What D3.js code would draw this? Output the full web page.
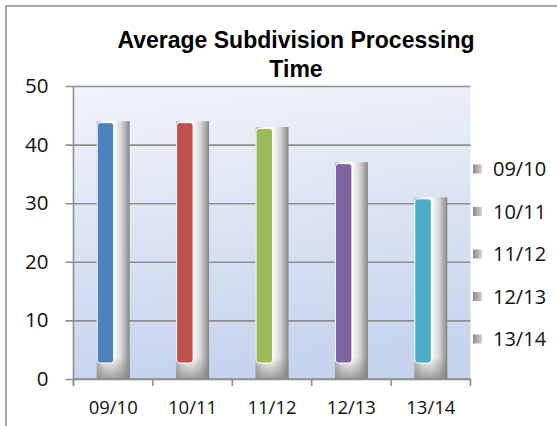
<!DOCTYPE html>
<html><head><meta charset="utf-8">
<script src="https://cdnjs.cloudflare.com/ajax/libs/d3/7.8.5/d3.min.js"></script>
<style>html,body{margin:0;padding:0;background:#fff;}svg{display:block;}</style>
</head><body>
<script>
const categories = ["09/10", "10/11", "11/12", "12/13", "13/14"];
const values = [44, 44, 43, 37, 31];
const colors = ["#4f81bd", "#c0504d", "#9bbb59", "#8064a2", "#4bacc6"];
const yTicks = [0, 10, 20, 30, 40, 50];
const titleLines = ["Average Subdivision Processing", "Time"];

const W = 557, H = 426;
const svg = d3.select("body").append("svg").attr("width", W).attr("height", H);
const defs = svg.append("defs");

const bg = defs.append("linearGradient").attr("id", "bg").attr("x1", 0).attr("y1", 0).attr("x2", 0.15).attr("y2", 1);
bg.append("stop").attr("offset", "0%").attr("stop-color", "#f2f4fa");
bg.append("stop").attr("offset", "100%").attr("stop-color", "#c6d4ee");

const cyl = defs.append("linearGradient").attr("id", "cyl").attr("x1", 0).attr("y1", 0).attr("x2", 1).attr("y2", 0);
cyl.append("stop").attr("offset", "0%").attr("stop-color", "#b8b8b8");
cyl.append("stop").attr("offset", "25%").attr("stop-color", "#f4f4f4");
cyl.append("stop").attr("offset", "50%").attr("stop-color", "#ffffff");
cyl.append("stop").attr("offset", "75%").attr("stop-color", "#d6d6d6");
cyl.append("stop").attr("offset", "100%").attr("stop-color", "#868686");

const shade = defs.append("linearGradient").attr("id", "shade").attr("x1", 0).attr("y1", 0).attr("x2", 0).attr("y2", 1);
shade.append("stop").attr("offset", "0%").attr("stop-color", "#808080").attr("stop-opacity", 0);
shade.append("stop").attr("offset", "100%").attr("stop-color", "#808080").attr("stop-opacity", 0.75);

const leg = defs.append("linearGradient").attr("id", "leg").attr("x1", 0).attr("y1", 0).attr("x2", 1).attr("y2", 0);
leg.append("stop").attr("offset", "0%").attr("stop-color", "#8a8a8a");
leg.append("stop").attr("offset", "100%").attr("stop-color", "#d4d4d4");

// outer frame
svg.append("rect").attr("x", 6).attr("y", 6).attr("width", 700).attr("height", 700)
  .attr("fill", "none").attr("stroke", "#8a8a8a").attr("stroke-width", 1.5);

const plot = {left: 73.5, right: 470.5, top: 86, bottom: 379};
const x = d3.scaleBand().domain(categories).range([plot.left, plot.right]).padding(0);
const y = d3.scaleLinear().domain([0, 50]).range([plot.bottom, plot.top]);

svg.append("rect").attr("x", plot.left).attr("y", plot.top)
  .attr("width", plot.right - plot.left).attr("height", plot.bottom - plot.top).attr("fill", "url(#bg)");

// gridlines + y ticks
const yAxis = d3.axisLeft(y).tickValues(yTicks).tickSize(-(plot.right - plot.left + 8)).tickPadding(17).tickFormat(d3.format("d"));
const gy = svg.append("g").attr("transform", `translate(${plot.left - 8},0)`).call(yAxis);
gy.select(".domain").remove();
gy.selectAll(".tick line").attr("stroke", "#8f8f8f").attr("stroke-width", 1.6);
gy.selectAll(".tick text").attr("font-family", "'Open Sans', sans-serif").attr("font-size", 20.5).attr("fill", "#111").attr("x", -17);

// y axis line
svg.append("line").attr("x1", plot.left).attr("x2", plot.left).attr("y1", plot.top).attr("y2", plot.bottom + 7)
  .attr("stroke", "#8f8f8f").attr("stroke-width", 1.6);

// bars
const bars = svg.append("g").selectAll("g").data(categories).join("g");
const half = 16.5;
bars.each(function (c, i) {
  const g = d3.select(this);
  const cx = x(c) + x.bandwidth() / 2;
  const yt = y(values[i]);
  g.append("rect").attr("x", cx - half).attr("y", yt).attr("width", 2 * half).attr("height", y(0) - yt).attr("fill", "url(#cyl)");
  g.append("rect").attr("x", cx - half).attr("y", y(0) - 22).attr("width", 2 * half).attr("height", 22).attr("fill", "url(#shade)");
  g.append("rect").attr("x", cx - half + 0.5).attr("y", yt + 1.5).attr("width", half).attr("height", (y(0) - 16) - (yt + 1.5))
    .attr("rx", 3).attr("ry", 3).attr("fill", colors[i]).attr("stroke", "#ffffff").attr("stroke-width", 1);
});

// x axis
svg.append("line").attr("x1", plot.left).attr("x2", plot.right).attr("y1", plot.bottom).attr("y2", plot.bottom)
  .attr("stroke", "#8f8f8f").attr("stroke-width", 1.6);
const bounds = categories.map(c => x(c)).concat([plot.right]);
svg.append("g").selectAll("line").data(bounds).join("line")
  .attr("x1", d => d).attr("x2", d => d).attr("y1", plot.bottom).attr("y2", plot.bottom + 7)
  .attr("stroke", "#8f8f8f").attr("stroke-width", 1.6);
svg.append("g").selectAll("text").data(categories).join("text")
  .attr("x", c => x(c) + x.bandwidth() / 2).attr("y", 408).attr("dy", "0.35em")
  .attr("text-anchor", "middle").attr("font-family", "'Open Sans', sans-serif").attr("font-size", 18.5).attr("fill", "#111")
  .text(c => c);

// title
svg.append("g").selectAll("text").data(titleLines).join("text")
  .attr("x", 296).attr("y", (d, i) => 48 + i * 29).attr("text-anchor", "middle")
  .attr("font-family", "'Liberation Sans', Arial, sans-serif").attr("font-weight", "bold").attr("font-size", 23).attr("fill", "#000")
  .text(d => d);

// legend
const lg = svg.append("g").selectAll("g").data(categories).join("g")
  .attr("transform", (d, i) => `translate(473,${169 + i * 42.5})`);
lg.append("rect").attr("x", 0).attr("y", -4.5).attr("width", 9).attr("height", 9).attr("fill", "url(#leg)");
lg.append("text").attr("x", 20).attr("y", 0).attr("dy", "0.35em")
  .attr("font-family", "'Open Sans', sans-serif").attr("font-size", 20).attr("fill", "#111").text(d => d);
</script>
</body></html>
